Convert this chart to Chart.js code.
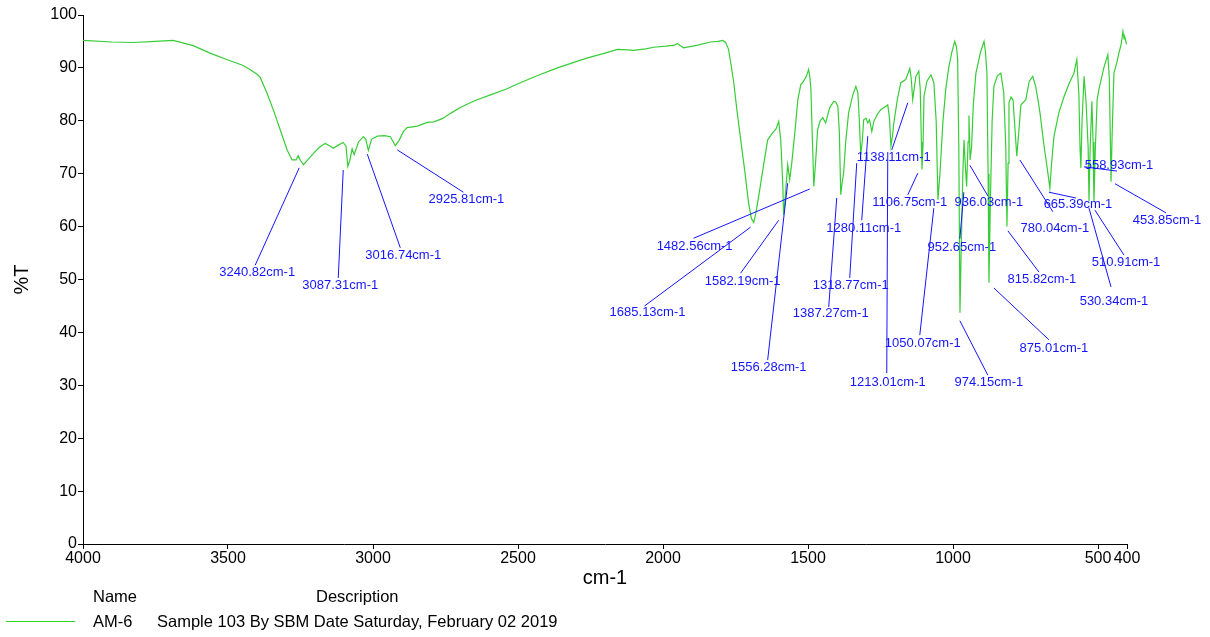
<!DOCTYPE html>
<html><head><meta charset="utf-8">
<script src="https://cdn.jsdelivr.net/npm/chart.js@4"></script>
<style>
html,body{margin:0;padding:0;background:#fff;}
#wrap{position:relative;width:1210px;height:637px;overflow:hidden;}
canvas{position:absolute;left:0;top:0;}
.lg{position:absolute;font:16.5px "Liberation Sans",Arial,sans-serif;color:#000;white-space:nowrap;line-height:19px;}
</style></head><body>
<div id="wrap">
<canvas id="c" width="1210" height="637"></canvas>
<div class="lg" style="left:93px;top:587px">Name</div>
<div class="lg" style="left:316px;top:587px">Description</div>
<div style="position:absolute;left:6px;top:621px;width:69px;height:1px;background:rgb(40,215,40)"></div>
<div class="lg" style="left:93px;top:612px">AM-6</div>
<div class="lg" style="left:157px;top:612px">Sample 103 By SBM Date Saturday, February 02 2019</div>
</div>
<script>
// ---- data ----
const wavenumbers = [4000,3900,3828,3750,3689,3620,3562,3500,3450,3424,3400,3389,3366,3340,3320,3296,3279,3265,3258,3250,3240,3225,3206,3185,3165,3150,3137,3120,3103,3093,3087,3080,3072,3065,3050,3033,3025,3016,3005,2985,2960,2940,2930,2923,2910,2895,2882,2847,2813,2790,2761,2730,2699,2650,2595,2540,2492,2430,2364,2310,2260,2200,2157,2120,2102,2060,2032,1990,1960,1950,1940,1929,1880,1836,1810,1794,1784,1774,1765,1756,1744,1732,1718,1705,1695,1687,1680,1670,1655,1639,1622,1610,1601,1594,1587,1584,1578,1570,1563,1556,1545,1535,1525,1515,1505,1498,1494,1490,1484,1480,1474,1467,1458,1449,1439,1425,1411,1404,1397,1392,1387,1383,1377,1370,1360,1345,1335,1328,1323,1318,1313,1308,1300,1294,1288,1280,1273,1260,1249,1235,1225,1219,1214,1209,1204,1192,1180,1163,1155,1149,1144,1139,1134,1128,1118,1113,1109,1107,1103,1100,1090,1076,1066,1058,1052,1045,1035,1025,1014,1004,994,988,984,980,976,972,966,962,958,953,948,945,941,936,930,921,905,893,888,883,879,876,871,865,859,847,835,825,818,814,810,807,800,793,787,780,773,766,757,749,737,725,715,707,700,686,675,666,660,652,635,617,600,583,573,566,562,559,555,548,541,534,531,527,521,517,514,509,503,497,480,466,461,457,455,451,445,435,428,420,414,410,407,403,400];
const transmittance = [95.2,94.9,94.8,95.0,95.2,94.2,92.8,91.5,90.5,89.7,88.8,88.2,85.3,81.5,78.3,74.5,72.6,72.6,73.4,72.5,71.7,72.6,73.8,75.0,75.7,75.3,74.8,75.4,75.9,75.2,71.4,72.5,74.7,73.6,76.0,77.0,76.5,74.4,76.5,77.1,77.2,77.0,76.0,75.3,76.3,78.0,78.7,79.0,79.7,79.8,80.4,81.5,82.5,83.8,84.9,86.0,87.2,88.6,90.0,91.0,91.9,92.8,93.5,93.4,93.3,93.6,93.9,94.1,94.3,94.6,94.2,93.8,94.3,94.9,95.0,95.2,94.8,93.5,90.5,87.2,81.5,76.4,70.5,64.5,61.5,60.8,62.5,65.7,71.0,76.4,77.7,78.5,79.9,76.4,68.0,62.2,66.0,71.7,68.9,72.0,78.0,84.0,86.8,87.5,88.5,89.7,88.5,85.9,75.0,67.6,72.0,78.3,80.0,80.6,79.6,82.5,83.7,83.5,82.7,78.0,66.0,68.0,70.2,76.0,81.5,85.0,86.5,85.3,80.0,73.6,76.0,80.2,80.5,79.6,80.2,78.0,79.9,81.3,82.1,82.6,83.0,80.5,75.2,77.0,79.6,84.0,87.2,87.8,89.0,89.9,88.0,84.0,86.0,88.4,89.4,86.0,76.0,70.8,76.0,84.6,87.5,88.7,87.2,80.0,65.1,70.0,79.6,86.0,90.3,93.0,95.0,94.0,91.6,75.0,43.7,55.0,70.2,76.4,72.0,67.6,76.0,81.0,72.6,75.0,83.0,89.0,93.0,95.0,93.0,89.0,70.0,49.4,65.0,80.0,86.5,88.5,89.0,85.3,75.0,60.0,72.0,83.4,84.5,84.0,79.0,73.3,78.0,83.0,83.5,84.0,87.5,88.4,86.5,84.0,81.5,75.2,71.0,67.3,72.0,77.0,81.5,84.6,87.0,89.0,91.6,85.0,75.0,71.1,80.0,88.4,83.4,75.0,64.8,75.0,83.7,76.0,64.8,75.0,84.0,85.9,90.0,92.5,88.0,75.0,68.5,78.0,89.0,91.0,92.8,94.5,96.9,95.5,95.7,94.8,94.4];
const xTickValues = [4000,3500,3000,2500,2000,1500,1000,500,400];
const yTickValues = [0,10,20,30,40,50,60,70,80,90,100];
const seriesName = 'AM-6';
const peakLabels = ['3240.82cm-1','3087.31cm-1','3016.74cm-1','2925.81cm-1','1482.56cm-1','1685.13cm-1','1582.19cm-1','1556.28cm-1','1387.27cm-1','1318.77cm-1','1280.11cm-1','1213.01cm-1','1138.11cm-1','1106.75cm-1','1050.07cm-1','952.65cm-1','936.03cm-1','974.15cm-1','875.01cm-1','815.82cm-1','780.04cm-1','665.39cm-1','558.93cm-1','530.34cm-1','510.91cm-1','453.85cm-1'];

// ---- annotation layout, in data units: leader start, leader end, text centre ----
const leaderStartX = [3254.4,3102.6,3019.7,2916.2,1494.1,1697.8,1601.1,1570.1,1400.9,1331.9,1293.9,1224.9,1155.9,1121.4,1066.1,962.6,941.9,976.4,859.0,810.7,769.3,669.2,548.4,531.1,510.4,441.4];
const leaderStartY = [71.1,70.7,73.7,74.5,67.1,59.9,61.2,68.2,65.4,72.0,77.1,74.1,83.4,70.1,63.5,66.5,71.6,42.2,48.4,59.2,72.6,66.5,71.3,63.5,63.1,68.1];
const leaderEndX = [3406.3,3119.8,2905.8,2688.4,1894.5,2063.6,1732.3,1639.1,1428.6,1356.1,1314.7,1228.4,1211.1,1155.9,1114.5,976.4,879.8,879.8,669.2,703.7,655.4,576.0,434.5,455.2,410.3,265.4];
const leaderEndY = [52.7,50.3,56.0,66.5,57.8,45.0,51.2,34.8,44.8,50.3,61.2,32.3,74.5,66.0,39.5,57.7,65.8,31.9,38.6,51.4,62.8,65.4,70.5,48.6,54.6,62.6];
const textX = [3399.4,3112.9,2895.5,2678.0,1891.1,2053.3,1725.4,1635.7,1421.7,1352.6,1307.8,1224.9,1204.2,1149.0,1104.1,969.5,876.3,876.3,651.9,693.4,648.5,569.1,427.6,444.9,403.4,262.0];
const textY = [51.4,48.8,54.6,65.2,56.3,43.7,49.7,33.3,43.5,48.8,59.7,30.6,73.0,64.5,38.0,56.1,64.5,30.6,36.9,50.1,59.7,64.1,71.5,45.9,53.3,61.1];

const points = wavenumbers.map((w, i) => ({x: w, y: transmittance[i]}));

const peakPlugin = {
  id: 'peaks',
  afterDatasetsDraw(chart) {
    const ctx = chart.ctx, xs = chart.scales.x, ys = chart.scales.y;
    ctx.save();
    ctx.strokeStyle = 'rgb(20,20,255)';
    ctx.lineWidth = 1;
    ctx.fillStyle = 'rgb(20,20,255)';
    ctx.font = '13px "Liberation Sans", Arial, sans-serif';
    ctx.textAlign = 'center';
    ctx.textBaseline = 'middle';
    peakLabels.forEach((t, i) => {
      ctx.beginPath();
      ctx.moveTo(xs.getPixelForValue(leaderStartX[i]), ys.getPixelForValue(leaderStartY[i]));
      ctx.lineTo(xs.getPixelForValue(leaderEndX[i]), ys.getPixelForValue(leaderEndY[i]));
      ctx.stroke();
      ctx.fillText(t, xs.getPixelForValue(textX[i]), ys.getPixelForValue(textY[i]));
    });
    ctx.restore();
  }
};

const tickFont = {family: '"Liberation Sans", Arial, sans-serif', size: 16};
new Chart(document.getElementById('c'), {
  type: 'scatter',
  data: {datasets: [{
    label: seriesName, data: points, showLine: true, pointRadius: 0,
    borderColor: 'rgb(55,205,55)', borderWidth: 1.2, tension: 0
  }]},
  options: {
    responsive: false, devicePixelRatio: 1, animation: false,
    layout: {padding: {left: 0, top: 15, right: 83, bottom: 47}},
    plugins: {legend: {display: false}, tooltip: {enabled: false}},
    scales: {
      x: {
        type: 'linear', reverse: true, min: 400, max: 4000,
        afterBuildTicks: s => { s.ticks = xTickValues.map(v => ({value: v})); },
        afterFit: s => { s.height = 46; },
        ticks: {autoSkip: false, maxRotation: 0, color: '#000', font: tickFont, padding: 0,
          callback: v => String(v)},
        grid: {drawOnChartArea: false, drawTicks: true, tickLength: 5, color: '#000'},
        border: {color: '#000', width: 1},
        title: {display: true, text: 'cm-1', color: '#000', padding: 0,
          font: {family: '"Liberation Sans", Arial, sans-serif', size: 20}}
      },
      y: {
        type: 'linear', min: 0, max: 100,
        afterBuildTicks: s => { s.ticks = yTickValues.map(v => ({value: v})); },
        afterFit: s => { s.width = 83; },
        ticks: {color: '#000', font: tickFont, padding: 1, callback: v => String(v)},
        grid: {drawOnChartArea: false, drawTicks: true, tickLength: 5, color: '#000'},
        border: {color: '#000', width: 1},
        title: {display: true, text: '%T', color: '#000', padding: {top: 10, bottom: 0},
          font: {family: '"Liberation Sans", Arial, sans-serif', size: 20}}
      }
    }
  },
  plugins: [peakPlugin]
});
</script>
</body></html>
